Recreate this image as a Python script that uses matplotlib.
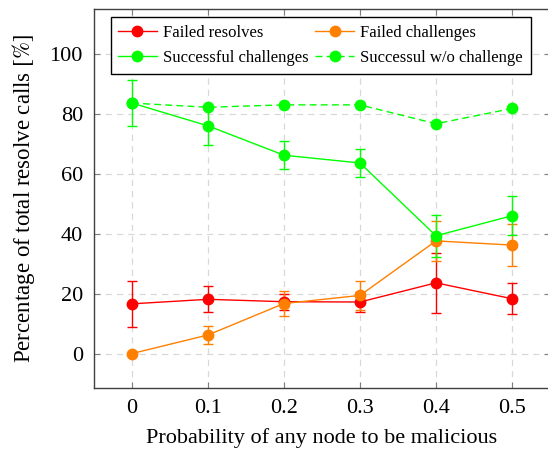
import numpy as np
import matplotlib.pyplot as plt
from matplotlib.lines import Line2D

plt.rcParams['font.family'] = ['Liberation Serif', 'DejaVu Serif']
plt.rcParams['mathtext.fontset'] = 'stix'

# data
prob = [0, 0.1, 0.2, 0.3, 0.4, 0.5]

failed_resolves = [16.6, 18.1, 17.3, 17.2, 23.6, 18.3]
failed_resolves_err = [7.7, 4.4, 2.6, 3.4, 10.0, 5.1]

failed_challenges = [0.0, 6.2, 16.7, 19.4, 37.6, 36.2]
failed_challenges_err = [0.0, 3.0, 4.2, 4.7, 6.7, 7.0]

successful_challenges = [83.6, 76.0, 66.2, 63.6, 39.3, 46.0]
successful_challenges_err = [7.6, 6.3, 4.7, 4.8, 7.0, 6.5]

successful_wo_challenge = [83.6, 82.2, 83.0, 83.0, 76.7, 81.8]

red = '#ff0000'
orange = '#ff8000'
green = '#00ff00'

fig = plt.figure(figsize=(5.48, 4.5), dpi=100)
ax = fig.add_axes([94 / 548, 1 - 388 / 450, 456 / 548, 379 / 450])

eb = dict(lw=1.0, ms=7.5, capsize=3.5, elinewidth=1.0, capthick=1.0)
ax.errorbar(prob, failed_resolves, yerr=failed_resolves_err, color=red,
            marker='o', **eb)
ax.errorbar(prob, failed_challenges, yerr=failed_challenges_err, color=orange,
            marker='o', **eb)
ax.errorbar(prob, successful_challenges, yerr=successful_challenges_err,
            color=green, marker='o', **eb)
ax.plot(prob, successful_wo_challenge, color=green, marker='o', ls='--',
        dashes=(5, 3), lw=1.0, ms=7.5)

ax.set_xlim(-0.05, 0.55)
ax.set_ylim(-11.5, 115)
ax.set_xticks(prob)
ax.set_xticklabels(['0', '0.1', '0.2', '0.3', '0.4', '0.5'])
ax.set_yticks([0, 20, 40, 60, 80, 100])

ax.grid(True, ls=(0, (5, 4)), color='#d8d8d8', lw=0.9)
ax.set_axisbelow(True)
ax.tick_params(direction='in', length=4, color='#808080', labelsize=16,
               top=True, right=True, pad=8)
for s in ax.spines.values():
    s.set_color('#404040')
    s.set_linewidth(1.0)

ax.set_xlabel('Probability of any node to be malicious', fontsize=16, labelpad=7)
ax.set_ylabel(r'Percentage of total resolve calls $[\%]$', fontsize=16.5, labelpad=9)

# legend handles, column-wise order so rows read as in the reference
h_fr = Line2D([], [], color=red, marker='o', lw=1.0, ms=7.5)
h_fc = Line2D([], [], color=orange, marker='o', lw=1.0, ms=7.5)
h_sc = Line2D([], [], color=green, marker='o', lw=1.0, ms=7.5)
h_sw = Line2D([], [], color=green, marker='o', lw=1.0, ms=7.5, ls='--', dashes=(5, 3))
handles = [h_fr, h_sc, h_fc, h_sw]
labels = ['Failed resolves', 'Successful challenges',
          'Failed challenges', 'Successul w/o challenge']

leg = ax.legend(handles, labels, loc='upper center', ncol=2, fontsize=12,
                frameon=True, fancybox=False, edgecolor='black', framealpha=1,
                handlelength=2.3, columnspacing=0.4, handletextpad=0.4,
                borderpad=0.45, labelspacing=0.55, bbox_to_anchor=(0.497, 1.0))
leg.get_frame().set_linewidth(1.0)

fig.savefig('out.png', dpi=100)
